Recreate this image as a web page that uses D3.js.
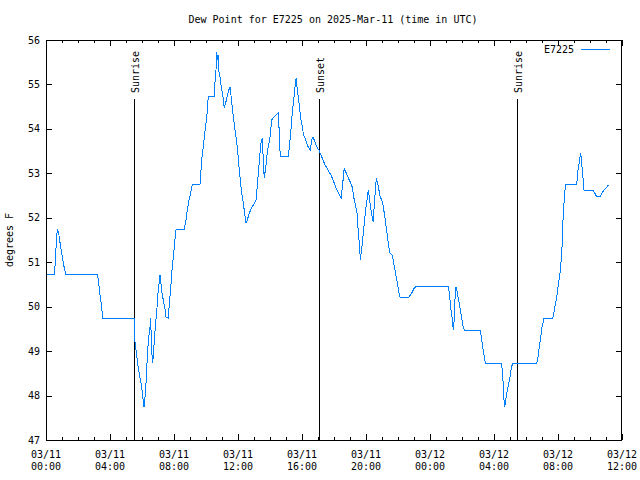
<!DOCTYPE html>
<html>
<head>
<meta charset="utf-8">
<script src="https://cdn.jsdelivr.net/npm/d3@7"></script>
<style>
  html, body { margin: 0; padding: 0; background: #fff; }
  svg { display: block; }
  text { font-family: "DejaVu Sans Mono", "Liberation Mono", monospace; font-size: 10px; fill: #000; }
</style>
</head>
<body>
<script>
// ---- data (hours since 2025-03-11 00:00 UTC, dew point in °F) ----
const hoursSinceStart = [
  0.06,0.52,0.56,0.61,0.67,0.71,0.75,0.79,0.83,0.92,1.00,1.08,1.17,1.23,3.21,3.27,3.33,3.39,3.46,3.52,3.56,5.50,
  5.52,5.56,5.67,5.77,5.875,5.98,6.125,6.19,6.25,6.29,6.39,6.50,6.54,6.61,6.67,6.75,6.83,6.92,7.00,7.125,7.25,7.33,7.42,7.50,7.64,7.71,7.79,7.875,7.96,8.04,8.125,
  8.64,8.75,8.83,8.94,9.04,9.14,9.625,9.69,9.75,9.83,9.92,10.00,10.08,10.14,10.52,10.56,10.625,10.67,10.71,10.75,10.79,10.875,10.96,11.06,11.14,11.23,11.31,11.42,11.50,
  11.54,11.625,11.71,11.79,11.875,11.96,12.04,12.125,12.21,12.33,12.50,12.58,12.67,12.79,12.96,13.125,13.17,13.27,13.375,13.44,13.52,13.58,13.64,13.73,13.81,13.89,14.00,
  14.11,14.21,14.52,14.58,14.64,15.14,15.21,15.31,15.39,15.48,15.56,15.64,15.69,15.77,15.86,15.94,16.02,16.10,16.19,16.29,16.39,16.52,16.61,16.69,16.81,16.94,17.06,
  17.19,17.31,17.44,17.56,17.69,17.81,17.94,18.06,18.19,18.27,18.44,18.52,18.61,18.64,18.77,18.89,19.02,19.14,19.23,19.31,19.44,19.52,19.61,19.64,19.73,19.81,19.89,
  19.98,20.06,20.14,20.23,20.31,20.39,20.46,20.52,20.61,20.64,20.73,20.81,20.89,20.98,21.06,21.14,21.23,21.31,21.39,21.48,21.64,21.73,21.81,21.89,21.98,22.06,22.14,
  22.64,22.77,22.89,23.02,23.14,25.14,25.21,25.29,25.375,25.42,25.46,25.50,25.54,25.58,25.625,25.67,25.75,25.83,25.92,26.00,26.08,26.17,27.125,27.21,27.29,27.375,27.46,
  28.46,28.54,28.58,28.625,28.67,28.75,28.83,28.92,29.00,29.08,29.17,30.67,30.75,30.83,30.92,31.00,31.125,31.67,31.75,31.83,31.92,32.00,32.08,32.17,32.25,32.29,32.33,
  32.42,32.48,33.17,33.25,33.33,33.42,33.46,33.54,33.625,34.17,34.29,34.42,34.625,34.75,34.875,35.04,35.17
];
const dewPointF = [
  50.73,50.73,50.90,51.24,51.57,51.74,51.66,51.69,51.54,51.35,51.16,50.98,50.83,50.73,50.73,50.60,50.41,50.22,50.04,49.85,49.74,49.74,
  49.57,49.21,48.91,48.62,48.40,48.19,47.74,47.97,48.28,48.58,49.21,49.54,49.74,48.98,48.73,49.14,49.54,49.88,50.31,50.71,50.31,50.15,49.99,49.77,49.74,50.08,50.38,50.83,51.12,51.43,51.73,
  51.73,51.95,52.18,52.40,52.56,52.74,52.74,53.08,53.37,53.59,53.91,54.13,54.38,54.72,54.72,55.03,55.33,55.73,55.55,55.66,55.33,55.17,54.94,54.72,54.47,54.58,54.72,54.87,54.94,
  54.83,54.54,54.27,54.04,53.82,53.59,53.23,52.92,52.62,52.33,51.88,51.95,52.06,52.18,52.29,52.40,52.56,53.00,53.46,53.68,53.80,53.30,52.90,53.12,53.41,53.59,53.82,
  54.20,54.25,54.36,53.91,53.37,53.37,53.59,53.98,54.36,54.65,54.94,55.15,54.94,54.72,54.43,54.20,54.04,53.86,53.80,53.68,53.59,53.52,53.75,53.82,53.70,53.59,53.52,
  53.41,53.30,53.19,53.12,53.03,52.96,52.85,52.74,52.62,52.56,52.44,52.69,53.00,53.12,53.00,52.90,52.80,52.69,52.47,52.33,52.11,51.66,51.34,51.05,51.28,51.57,51.88,
  52.18,52.40,52.62,52.40,52.18,52.02,51.90,52.33,52.69,52.90,52.78,52.62,52.47,52.40,52.29,52.11,51.88,51.66,51.43,51.21,51.16,50.98,50.83,50.67,50.49,50.31,50.20,
  50.20,50.26,50.33,50.42,50.46,50.46,50.31,49.99,49.77,49.61,49.47,49.65,49.97,50.31,50.44,50.38,50.22,50.08,49.88,49.70,49.54,49.47,49.47,49.32,49.09,48.91,48.73,
  48.73,48.53,48.19,47.90,47.74,47.94,48.12,48.28,48.42,48.62,48.73,48.73,48.87,49.09,49.32,49.54,49.74,49.74,49.88,50.04,50.22,50.44,50.64,50.89,51.34,51.73,52.11,
  52.56,52.74,52.74,53.08,53.25,53.46,53.30,53.00,52.62,52.62,52.56,52.47,52.47,52.56,52.62,52.69,52.74
];
const yTicks = [47, 48, 49, 50, 51, 52, 53, 54, 55, 56];
const xTickHours = [0, 4, 8, 12, 16, 20, 24, 28, 32, 36];
const sunEventHours = [5.50, 17.08, 29.46];
const sunEventLabels = ["Sunrise", "Sunset", "Sunrise"];
const seriesName = "E7225";
const titleText = "Dew Point for E7225 on 2025-Mar-11 (time in UTC)";
const yAxisLabel = "degrees F";

// ---- layout ----
const W = 640, H = 480;
const L = 46, R = 622, T = 40, B = 440;
const lineColor = "#0080ff";
const start = Date.UTC(2025, 2, 11, 0, 0);
const toDate = h => new Date(start + h * 3600000);

const x = d3.scaleUtc().domain([toDate(0), toDate(36)]).range([L, R]);
const y = d3.scaleLinear().domain([47, 56]).range([B, T]);

const svg = d3.select("body").append("svg").attr("width", W).attr("height", H);
svg.append("rect").attr("width", W).attr("height", H).attr("fill", "#fff");

// title
svg.append("text").attr("x", 333).attr("y", 23).attr("text-anchor", "middle").text(titleText);

// y axis label
svg.append("text").attr("transform", "translate(13,240) rotate(-90)")
  .attr("text-anchor", "middle").text(yAxisLabel);

// axes (ticks inward, mirrored)
const fmtDay = d3.utcFormat("%m/%d"), fmtHM = d3.utcFormat("%H:%M");
const minorHours = d3.range(0, 37);
const axisBottom = d3.axisBottom(x).tickValues(xTickHours.map(toDate)).tickSize(-6).tickFormat("");
const axisTop = d3.axisTop(x).tickValues(xTickHours.map(toDate)).tickSize(-6).tickFormat("");
const minorBottom = d3.axisBottom(x).tickValues(minorHours.map(toDate)).tickSize(-3).tickFormat("");
const minorTop = d3.axisTop(x).tickValues(minorHours.map(toDate)).tickSize(-3).tickFormat("");
const axisLeft = d3.axisLeft(y).tickValues(yTicks).tickSize(-6).tickFormat("");
const axisRight = d3.axisRight(y).tickValues(yTicks).tickSize(-6).tickFormat("");

function styleAxis(g) {
  g.select(".domain").remove();
  g.selectAll("line").attr("stroke", "#000").attr("shape-rendering", "crispEdges");
}
svg.append("g").attr("transform", `translate(0,${B})`).call(minorBottom).call(styleAxis);
svg.append("g").attr("transform", `translate(0,${B})`).call(axisBottom).call(styleAxis);
svg.append("g").attr("transform", `translate(0,${T})`).call(minorTop).call(styleAxis);
svg.append("g").attr("transform", `translate(0,${T})`).call(axisTop).call(styleAxis);
svg.append("g").attr("transform", `translate(${L},0)`).call(axisLeft).call(styleAxis);
svg.append("g").attr("transform", `translate(${R},0)`).call(axisRight).call(styleAxis);

// tick labels
const xl = svg.append("g");
xTickHours.forEach(h => {
  const d = toDate(h);
  xl.append("text").attr("x", x(d)).attr("y", 458).attr("text-anchor", "middle").text(fmtDay(d));
  xl.append("text").attr("x", x(d)).attr("y", 470).attr("text-anchor", "middle").text(fmtHM(d));
});
yTicks.forEach(v => {
  svg.append("text").attr("x", 40).attr("y", y(v) + 3.5).attr("text-anchor", "end").text(v);
});

// frame
svg.append("rect").attr("x", L + 0.5).attr("y", T + 0.5).attr("width", R - L - 1).attr("height", B - T)
  .attr("fill", "none").attr("stroke", "#000").attr("stroke-width", 1).attr("shape-rendering", "crispEdges");

// sun event lines
sunEventHours.forEach((h, i) => {
  const xx = Math.round(x(toDate(h))) + 0.5;
  svg.append("line").attr("x1", xx).attr("x2", xx).attr("y1", 99).attr("y2", B)
    .attr("stroke", "#000").attr("stroke-width", 1).attr("shape-rendering", "crispEdges");
  svg.append("text").attr("transform", `translate(${xx + 4},93) rotate(-90)`)
    .attr("text-anchor", "start").text(sunEventLabels[i]);
});

// series
const pts = hoursSinceStart.map((h, i) => [toDate(h), dewPointF[i]]);
svg.append("path").datum(pts)
  .attr("fill", "none").attr("stroke", lineColor).attr("stroke-width", 1)
  .attr("shape-rendering", "crispEdges")
  .attr("d", d3.line().x(d => x(d[0])).y(d => y(d[1])));

// legend
svg.append("text").attr("x", 574).attr("y", 53).attr("text-anchor", "end").text(seriesName);
svg.append("line").attr("x1", 581).attr("x2", 610).attr("y1", 49.5).attr("y2", 49.5)
  .attr("stroke", lineColor).attr("stroke-width", 1).attr("shape-rendering", "crispEdges");
</script>
</body>
</html>
